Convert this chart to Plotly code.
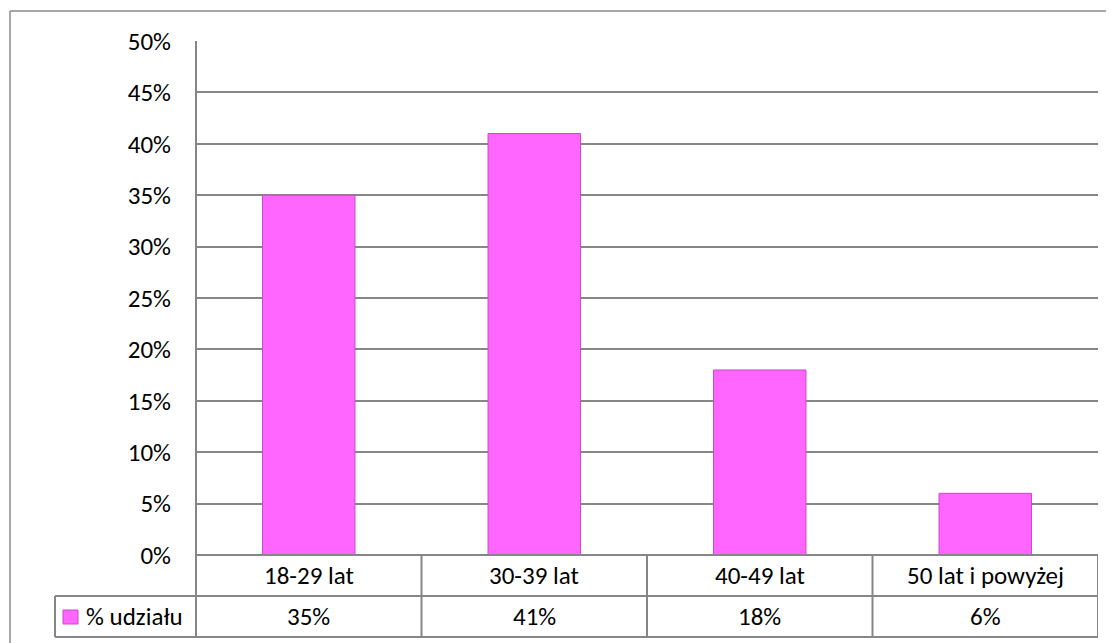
import plotly.graph_objects as go

categories = ["18-29 lat", "30-39 lat", "40-49 lat", "50 lat i powyżej"]
values = [35, 41, 18, 6]
value_labels = ["35%", "41%", "18%", "6%"]
series_name = "% udziału"
y_ticks = [0, 5, 10, 15, 20, 25, 30, 35, 40, 45, 50]
y_tick_labels = ["0%", "5%", "10%", "15%", "20%", "25%", "30%", "35%", "40%", "45%", "50%"]

W, H = 1114, 643
OFF = 8  # page body margin
BAR = "#FF66FF"
GRID = "#868686"
FONT = "Carlito, Lato, sans-serif"
FS = 25


def px(x):
    return (x - OFF) / W


def py(y):
    return 1 - (y - OFF) / H


fig = go.Figure()
fig.add_trace(go.Bar(
    x=categories, y=values, name=series_name,
    marker=dict(color=BAR, line=dict(color="#C94AC9", width=1)),
    width=0.41, showlegend=False,
))

left, right, top, bottom = 196, 1098, 41, 555
row1, row2 = 596, 637
leg_left = 55

fig.update_layout(
    width=W, height=H,
    margin=dict(l=0, r=0, t=0, b=0, autoexpand=False),
    paper_bgcolor="white", plot_bgcolor="white",
    font=dict(family=FONT, size=FS, color="#000000"),
    xaxis=dict(domain=[px(left), px(right)], range=[-0.5, len(categories) - 0.5],
               showticklabels=False, showgrid=False, zeroline=False, showline=False,
               type="category", automargin=False),
    yaxis=dict(domain=[py(bottom), py(top)], range=[0, 50], tickmode="array",
               tickvals=y_ticks, ticktext=y_tick_labels,
               showgrid=True, gridcolor=GRID, gridwidth=1.5, automargin=False,
               zeroline=False, showline=False, ticks="", ticklabelstandoff=24,
               tickfont=dict(family=FONT, size=FS)),
)

shapes = []
line = dict(color=GRID, width=2)
shapes.append(dict(type="line", xref="paper", yref="paper", x0=px(10), x1=1.0, y0=py(11), y1=py(11),
                   line=dict(color="#8a8a8a", width=1.5)))
shapes.append(dict(type="line", xref="paper", yref="paper", x0=px(10), x1=px(10), y0=py(11), y1=0,
                   line=dict(color="#8a8a8a", width=1.5)))
shapes.append(dict(type="line", xref="paper", yref="paper", x0=px(left), x1=px(left), y0=py(top), y1=py(row2), line=line))
shapes.append(dict(type="line", xref="paper", yref="paper", x0=px(left), x1=px(right), y0=py(bottom), y1=py(bottom), line=line))
shapes.append(dict(type="line", xref="paper", yref="paper", x0=px(leg_left), x1=px(right), y0=py(row1), y1=py(row1), line=line))
shapes.append(dict(type="line", xref="paper", yref="paper", x0=px(leg_left), x1=px(right), y0=py(row2), y1=py(row2), line=line))
shapes.append(dict(type="line", xref="paper", yref="paper", x0=px(leg_left), x1=px(leg_left), y0=py(row1), y1=py(row2), line=line))
for i in range(len(categories)):
    shapes.append(dict(type="line", xref="x", yref="paper", x0=i + 0.5, x1=i + 0.5,
                       y0=py(bottom), y1=py(row2), line=line))
shapes.append(dict(type="rect", xref="paper", yref="paper", x0=px(63), x1=px(78), y0=py(624), y1=py(610),
                   fillcolor=BAR, line=dict(color="#C94AC9", width=1)))
fig.update_layout(shapes=shapes)

ann = []
for i, c in enumerate(categories):
    ann.append(dict(x=c, y=py((bottom + row1) / 2), xref="x", yref="paper", text=c, showarrow=False,
                    font=dict(family=FONT, size=FS), xanchor="center", yanchor="middle"))
    ann.append(dict(x=c, y=py((row1 + row2) / 2), xref="x", yref="paper", text=value_labels[i], showarrow=False,
                    font=dict(family=FONT, size=FS), xanchor="center", yanchor="middle"))
ann.append(dict(x=px(84), y=py((row1 + row2) / 2), xref="paper", yref="paper", text=series_name, showarrow=False,
                font=dict(family=FONT, size=FS), xanchor="left", yanchor="middle"))
fig.update_layout(annotations=ann)

fig.write_html("out.html")
